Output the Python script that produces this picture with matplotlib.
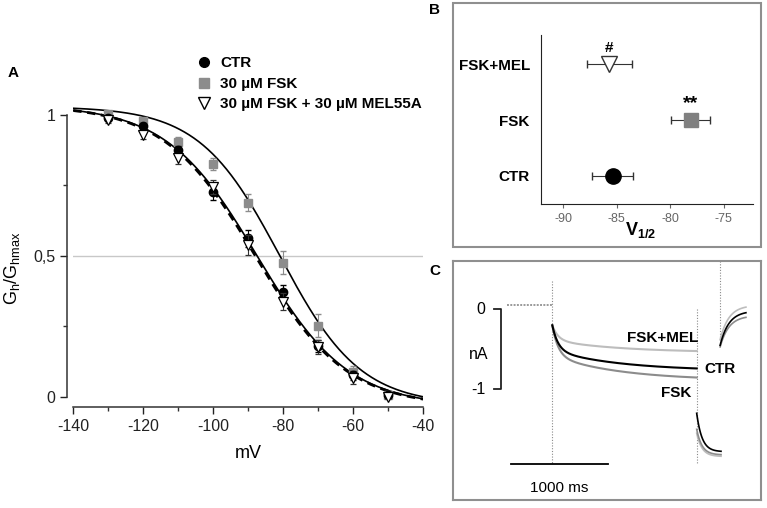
import numpy as np
import matplotlib
matplotlib.use('Agg')
import matplotlib.pyplot as plt
from matplotlib.lines import Line2D
from matplotlib.patches import Rectangle

plt.rcParams['font.family'] = ['Liberation Sans', 'DejaVu Sans']
plt.rcParams['mathtext.fontset'] = 'custom'
plt.rcParams['mathtext.rm'] = 'Liberation Sans'
plt.rcParams['mathtext.bf'] = 'Liberation Sans:bold'
plt.rcParams['axes.unicode_minus'] = False

# ---- panel A data: activation curves
volt = [-130, -120, -110, -100, -90, -80, -70, -60, -50]
g_ctr = [0.99, 0.96, 0.876, 0.728, 0.562, 0.373, 0.18, 0.075, 0.005]
e_ctr = [0.01, 0.01, 0.015, 0.03, 0.03, 0.025, 0.02, 0.015, 0.01]
g_fsk = [1.005, 0.977, 0.905, 0.826, 0.689, 0.476, 0.252, 0.089, 0.006]
e_fsk = [0.01, 0.01, 0.015, 0.02, 0.03, 0.04, 0.04, 0.02, 0.01]
g_mel = [0.982, 0.929, 0.846, 0.745, 0.538, 0.337, 0.175, 0.065, 0.0]
e_mel = [0.01, 0.015, 0.02, 0.025, 0.035, 0.03, 0.025, 0.02, 0.01]

# Boltzmann fit parameters (V1/2, slope, amplitude, offset)
fit_ctr = [-87.5, 13.0, 1.07, -0.035]
fit_fsk = [-81.0, 11.5, 1.06, -0.03]
fit_mel = [-88.0, 13.0, 1.07, -0.035]

# ---- panel B data: V1/2
groups = ['CTR', 'FSK', 'FSK+MEL']
v_half = [-85.4, -78.1, -85.7]
v_err = [1.9, 1.85, 2.1]
signif = ['', '**', '#']

# ---- panel C data: current traces (nA, ms)
trace_names = ['FSK+MEL', 'CTR', 'FSK']
trace_cols = ['#bdbdbd', 'black', '#8c8c8c']
step_start = [-0.2, -0.2, -0.2]
step_ss = [-0.54, -0.77, -0.89]
tail_start = [-1.55, -1.30, -1.50]
tail_end = [-1.84, -1.78, -1.82]
deact_start = [-0.38, -0.45, -0.47]
deact_end = [0.05, -0.02, -0.08]
hold_cur = 0.06


def boltz(v, p):
    return p[2] / (1 + np.exp((v - p[0]) / p[1])) + p[3]


fig = plt.figure(figsize=(7.67, 5.08), dpi=100)

# ================= A
ax = fig.add_axes([0.0956, 0.1988, 0.4563, 0.6026])
vv = np.linspace(-140, -40, 300)
ax.axhline(0.5, color='#c8c8c8', lw=1, zorder=0)
ax.plot(vv, boltz(vv, fit_fsk), color='black', lw=1.2)
ax.plot(vv, boltz(vv, fit_ctr), color='black', lw=1.2)
ax.plot(vv, boltz(vv, fit_mel), color='black', lw=2, ls=(0, (3, 2)))
ax.errorbar(volt, g_fsk, yerr=e_fsk, fmt='s', color='#8c8c8c', ms=6,
            capsize=2.5, elinewidth=0.8, zorder=3)
ax.errorbar(volt, g_ctr, yerr=e_ctr, fmt='o', color='black', ms=6,
            capsize=2.5, elinewidth=0.8, zorder=4)
ax.errorbar(volt, g_mel, yerr=e_mel, fmt='v', mfc='white', mec='black',
            ecolor='#333333', ms=7, mew=0.9, capsize=2.5, elinewidth=0.8, zorder=5)
ax.set_xlim(-140, -40)
ax.set_ylim(-0.037, 1.05)
for s in ['top', 'right']:
    ax.spines[s].set_visible(False)
ax.spines['left'].set_position(('outward', 4.3))
ax.spines['left'].set_bounds(0, 1)
ax.spines['bottom'].set_bounds(-140, -40)
for s in ['left', 'bottom']:
    ax.spines[s].set_color('#333333')
    ax.spines[s].set_linewidth(1.1)
ax.set_xticks([-140, -120, -100, -80, -60, -40])
ax.set_xticks([-130, -110, -90, -70, -50], minor=True)
ax.set_yticks([0, 0.5, 1])
ax.set_yticklabels(['0', '0,5', '1'])
ax.set_yticks([0.25, 0.75], minor=True)
ax.tick_params(labelsize=11.5, colors='#222222', length=5, width=1)
ax.tick_params(which='minor', length=3, width=1, colors='#333333')
ax.set_xlabel('mV', fontsize=13)
ax.xaxis.set_label_coords(0.5, -0.125)
fig.text(12.5 / 767, 1 - 268 / 508, r'G$_\mathrm{h}$/G$_\mathrm{hmax}$', fontsize=13,
         rotation=90, ha='center', va='center')

handles = [Line2D([], [], marker='o', ls='', color='black', ms=7),
           Line2D([], [], marker='s', ls='', color='#8c8c8c', ms=7),
           Line2D([], [], marker='v', ls='', mfc='white', mec='black', ms=8)]
ax.legend(handles, ['CTR', '30 µM FSK', '30 µM FSK + 30 µM MEL55A'],
          loc='upper left', bbox_to_anchor=(0.326, 1.17), frameon=False,
          prop={'weight': 'bold', 'size': 11}, handletextpad=0.45,
          labelspacing=0.42, borderpad=0, handlelength=1.2)
fig.text(13 / 767, 1 - 72.7 / 508, 'A', fontsize=11, fontweight='bold',
         ha='center', va='center')

# ================= B
fig.patches.append(Rectangle((0.5902, 0.5144), 0.4016, 0.4803, transform=fig.transFigure,
                             fill=False, ec='#8f8f8f', lw=1.5))
fig.text(434 / 767, 1 - 10 / 508, 'B', fontsize=11, fontweight='bold',
         ha='center', va='center')
bx = fig.add_axes([0.7053, 0.5984, 0.276, 0.3327])
ypos = np.arange(len(groups))
bx.errorbar(v_half[0], ypos[0], xerr=v_err[0], fmt='o', color='black', ms=11,
            capsize=3, elinewidth=0.8, ecolor='#333333')
bx.errorbar(v_half[1], ypos[1], xerr=v_err[1], fmt='s', color='#808080', ms=10,
            capsize=3, elinewidth=0.8, ecolor='#333333')
bx.errorbar(v_half[2], ypos[2], xerr=v_err[2], fmt='v', mfc='white', mec='#333333',
            ms=12, capsize=3, elinewidth=0.8, ecolor='#333333')
for i in range(len(groups)):
    if signif[i]:
        bx.text(v_half[i], ypos[i] + 0.3, signif[i], ha='center', va='center',
                fontsize=11 if signif[i] == '#' else 14, fontweight='bold')
bx.set_xlim(-92.1, -72.3)
bx.set_ylim(-0.508, 2.526)
bx.set_yticks(ypos)
bx.set_yticklabels(groups, fontsize=11, fontweight='bold')
bx.tick_params(axis='y', length=0, pad=8)
bx.set_xticks([-90, -85, -80, -75])
bx.tick_params(axis='x', labelsize=9, colors='#666666', length=3, width=0.8)
for s in ['top', 'right']:
    bx.spines[s].set_visible(False)
bx.spines['left'].set_color('#222222')
bx.spines['bottom'].set_color('#222222')
bx.set_xlabel(r'$\mathbf{V_{1/2}}$', fontsize=13)
bx.xaxis.set_label_coords(0.472, -0.095)

# ================= C
fig.text(435 / 767, 1 - 270.7 / 508, 'C', fontsize=11, fontweight='bold',
         ha='center', va='center')
cx = fig.add_axes([0.5902, 0.01575, 0.4016, 0.471])
cx.set_xlim(-1024, 2142)
cx.set_ylim(-2.384, 0.6075)
cx.set_xticks([])
cx.set_yticks([])
for s in cx.spines.values():
    s.set_color('#8f8f8f')
    s.set_linewidth(1.5)

dot = dict(color='#8a8a8a', lw=0.8, ls=(0, (1, 1.5)))
cx.plot([-470, 0], [hold_cur, hold_cur], color='#9a9a9a', lw=1.4, ls=(0, (1, 0.7)))
cx.plot([0, 0], [0.35, -1.93], **dot)
cx.plot([1484, 1484], [0.0, -1.93], **dot)
cx.plot([1722, 1722], [0.6, -0.45], **dot)

t1 = np.linspace(0, 1484, 400)
t2 = np.linspace(0, 250, 100)
t3 = np.linspace(0, 265, 100)
for i in [0, 2, 1]:
    frac = 0.55 * np.exp(-t1 / 60) + 0.45 * np.exp(-t1 / 700)
    cx.plot(t1, step_ss[i] + (step_start[i] - step_ss[i]) * frac,
            color=trace_cols[i], lw=1.5)
    cx.plot(1484 + t2, tail_end[i] + (tail_start[i] - tail_end[i]) * np.exp(-t2 / 55),
            color=trace_cols[i], lw=1.2)
    cx.plot(1725 + t3, deact_end[i] + (deact_start[i] - deact_end[i]) * np.exp(-t3 / 90),
            color=trace_cols[i], lw=1.2)

# scale bars
cx.plot([-596, -527, -527, -596], [0, 0, -1, -1], color='#222222', lw=1.3)
cx.plot([-427, 573], [-1.934, -1.934], color='black', lw=1.3)
cx.text(-690, 0, '0', ha='right', va='center', fontsize=11.5)
cx.text(-690, -1, '-1', ha='right', va='center', fontsize=11.5)
cx.text(-760, -0.56, 'nA', ha='center', va='center', fontsize=11.5)
cx.text(75, -2.23, '1000 ms', ha='center', va='center', fontsize=11)

cx.text(1500, -0.36, 'FSK+MEL', ha='right', va='center', fontsize=11, fontweight='bold')
cx.text(1565, -0.75, 'CTR', ha='left', va='center', fontsize=11, fontweight='bold')
cx.text(1425, -1.05, 'FSK', ha='right', va='center', fontsize=11, fontweight='bold')

fig.savefig('out.png', dpi=100)
